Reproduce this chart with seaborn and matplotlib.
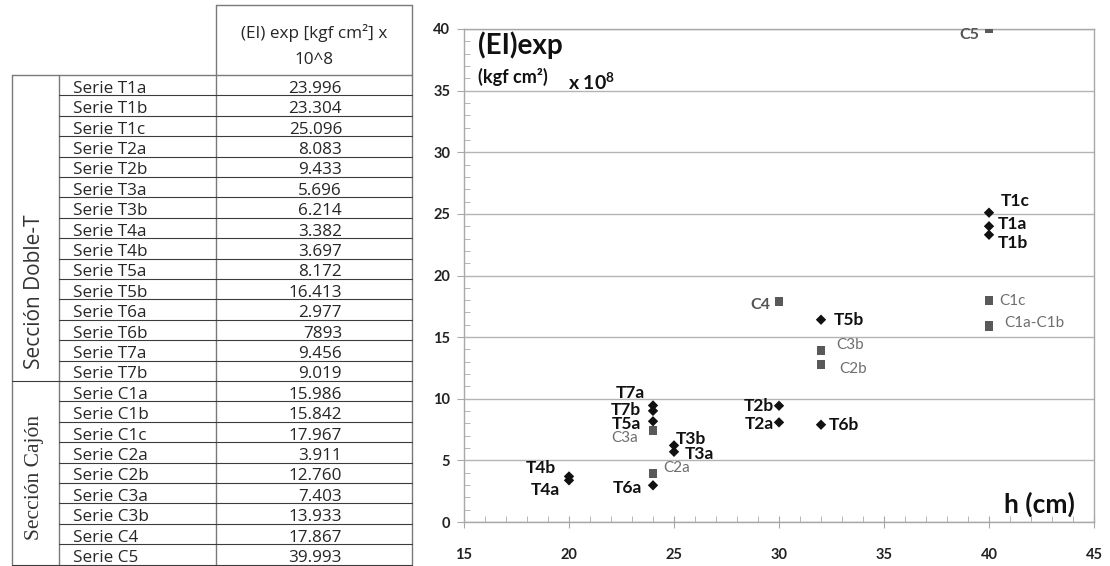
import numpy as np
import pandas as pd
import matplotlib.pyplot as plt
import seaborn as sns
from matplotlib.ticker import MultipleLocator

series = ['T1a', 'T1b', 'T1c', 'T2a', 'T2b', 'T3a', 'T3b', 'T4a', 'T4b',
          'T5a', 'T5b', 'T6a', 'T6b', 'T7a', 'T7b',
          'C1a', 'C1b', 'C1c', 'C2a', 'C2b', 'C3a', 'C3b', 'C4', 'C5']
table_values = ['23.996', '23.304', '25.096', '8.083', '9.433', '5.696', '6.214',
                '3.382', '3.697', '8.172', '16.413', '2.977', '7893', '9.456', '9.019',
                '15.986', '15.842', '17.967', '3.911', '12.760', '7.403', '13.933',
                '17.867', '39.993']
ei_exp = [23.996, 23.304, 25.096, 8.083, 9.433, 5.696, 6.214, 3.382, 3.697,
          8.172, 16.413, 2.977, 7.893, 9.456, 9.019,
          15.986, 15.842, 17.967, 3.911, 12.760, 7.403, 13.933, 17.867, 39.993]
h_cm = [40, 40, 40, 30, 30, 25, 25, 20, 20, 24, 32, 24, 32, 24, 24,
        40, 40, 40, 24, 32, 24, 32, 30, 40]
section = ['T'] * 15 + ['C'] * 9
group_names = ['Sección Doble-T', 'Sección Cajón']

# point labels: text, offset in pixels (dx, dy), alignment
point_labels = {
    'T1c': ('T1c', 12, 12, 'left'), 'T1a': ('T1a', 9, 2, 'left'),
    'T1b': ('T1b', 9, -8, 'left'), 'T2a': ('T2a', -5, -2, 'right'),
    'T2b': ('T2b', -5, 0, 'right'), 'T3a': ('T3a', 11, -2, 'left'),
    'T3b': ('T3b', 2, 6, 'left'), 'T4a': ('T4a', -9, -10, 'right'),
    'T4b': ('T4b', -13, 8, 'right'), 'T5a': ('T5a', -12, -3, 'right'),
    'T5b': ('T5b', 13, 0, 'left'), 'T6a': ('T6a', -11, -3, 'right'),
    'T6b': ('T6b', 8, 0, 'left'), 'T7a': ('T7a', -8, 12, 'right'),
    'T7b': ('T7b', -12, 1, 'right'),
    'C1a': ('C1a-C1b', 15, 2, 'left'), 'C1c': ('C1c', 10, 0, 'left'),
    'C2a': ('C2a', 10, 6, 'left'), 'C2b': ('C2b', 18, -4, 'left'),
    'C3a': ('C3a', -15, -7, 'right'), 'C3b': ('C3b', 15, 5, 'left'),
    'C4': ('C4', -9, -3, 'right'), 'C5': ('C5', -10, -6, 'right'),
}

df = pd.DataFrame({'serie': series, 'h': h_cm, 'EI': ei_exp, 'section': section})

sns.set_style('white')
plt.rcParams['font.family'] = ['Lato', 'DejaVu Sans']
plt.rcParams['mathtext.fontset'] = 'custom'
plt.rcParams['mathtext.rm'] = 'Lato'
plt.rcParams['mathtext.bf'] = 'Lato:bold'

fig = plt.figure(figsize=(11.1, 5.66), dpi=100)

# ============ table on the left (pixel coordinates) ============
tab = fig.add_axes([0, 0, 1, 1])
tab.set_xlim(0, 1110)
tab.set_ylim(566, 0)
tab.axis('off')

row_top, row_h = 75, 20.4
xg0, xg1, xv0, xv1 = 12, 59, 216, 412
n = len(series)
n_t = section.count('T')
y_bot = row_top + n * row_h
vcol = '#7a7a7a'
tfont = dict(family=['Open Sans', 'DejaVu Sans'], fontsize=12.3, color='#262626')

for xv, ytop in [(xg0, row_top), (xg1, row_top), (xv0, 5), (xv1, 5)]:
    tab.plot([xv, xv], [ytop, y_bot], color=vcol, lw=1)
tab.plot([xv0, xv1], [5, 5], color=vcol, lw=1)
tab.plot([xg0, xv1], [row_top, row_top], color=vcol, lw=1)
for i in range(1, n + 1):
    y = row_top + i * row_h
    x0 = xg0 if i in (n_t, n) else xg1
    tab.plot([x0, xv1], [y, y], color='#3c3c3c', lw=0.8)

for i, (s, v) in enumerate(zip(series, table_values)):
    yb = row_top + (i + 1) * row_h - 2.5
    tab.text(73, yb, 'Serie ' + s, va='baseline', **tfont)
    tab.text(342, yb, v, ha='right', va='baseline', **tfont)

tab.text(314, 38, '(EI) exp [kgf cm²] x', ha='center', va='baseline', **tfont)
tab.text(314, 64, '10^8', ha='center', va='baseline', **tfont)

tab.text(35, 292, group_names[0], rotation=90, ha='center', va='center',
         family=['Open Sans', 'DejaVu Sans'], fontsize=15, color='#333333')
tab.text(35, 478, group_names[1], rotation=90, ha='center', va='center',
         family=['Liberation Serif', 'DejaVu Serif'], fontsize=15.5, color='#333333')

# ============ scatter chart ============
ax = fig.add_axes([464 / 1110, 44 / 566, 630 / 1110, 493 / 566])
t_df = df[df['section'] == 'T']
c_df = df[df['section'] == 'C']
sns.scatterplot(data=c_df, x='h', y='EI', marker='s', s=40, color='#595959',
                edgecolor='none', legend=False, ax=ax, zorder=3)
sns.scatterplot(data=t_df, x='h', y='EI', marker='D', s=28, color='#111111',
                edgecolor='none', legend=False, ax=ax, zorder=3)

for _, r in df.iterrows():
    if r['serie'] not in point_labels:
        continue
    txt, dx, dy, ha = point_labels[r['serie']]
    if r['section'] == 'T':
        kw = dict(fontsize=12.5, fontweight='bold', color='#111111')
    elif txt in ('C4', 'C5'):
        kw = dict(fontsize=11.5, fontweight='bold', color='#555555')
    else:
        kw = dict(fontsize=11, color='#6e6e6e')
    ax.annotate(txt, (r['h'], r['EI']), xytext=(dx, dy), textcoords='offset pixels',
                ha=ha, va='center', **kw)

ax.set_xlim(15, 45)
ax.set_ylim(0, 40)
ax.set_xticks(range(15, 46, 5))
ax.set_yticks(range(0, 41, 5))
ax.xaxis.set_minor_locator(MultipleLocator(1))
ax.yaxis.set_minor_locator(MultipleLocator(1))
ax.set_xlabel('')
ax.set_ylabel('')
ax.grid(axis='y', which='major', color='#b4b4b4', lw=1)
ax.set_axisbelow(True)
for sp in ax.spines.values():
    sp.set_color('#a8a8a8')
    sp.set_linewidth(1)

ax.tick_params(axis='x', which='major', direction='inout', length=8, pad=15,
               color='#a8a8a8', labelsize=10.5, labelcolor='#222222')
ax.tick_params(axis='x', which='minor', direction='in', length=4, color='#a8a8a8')
ax.tick_params(axis='y', which='major', direction='out', length=5, pad=5,
               color='#a8a8a8', labelsize=10.5, labelcolor='#222222')
ax.tick_params(axis='y', which='minor', direction='in', length=4, color='#a8a8a8')
ax.tick_params(bottom=True, left=True, top=False, right=False, which='both')
for lab in ax.get_xticklabels() + ax.get_yticklabels():
    lab.set_fontweight('bold')

ax.text(0.022, 0.995, '(EI)exp', transform=ax.transAxes, fontsize=20,
        fontweight='bold', color='#111111', va='top')
ax.text(0.022, 0.903, '(kgf cm²)', transform=ax.transAxes, fontsize=13,
        fontweight='bold', color='#111111', va='center')
ax.text(0.165, 0.893, r'x 10$^{\mathbf{8}}$', transform=ax.transAxes, fontsize=14,
        fontweight='bold', color='#111111', va='center')
ax.text(0.97, 0.01, 'h (cm)', transform=ax.transAxes, fontsize=19,
        fontweight='bold', color='#111111', ha='right', va='bottom')

plt.savefig('out.png', dpi=100)
plt.close()
